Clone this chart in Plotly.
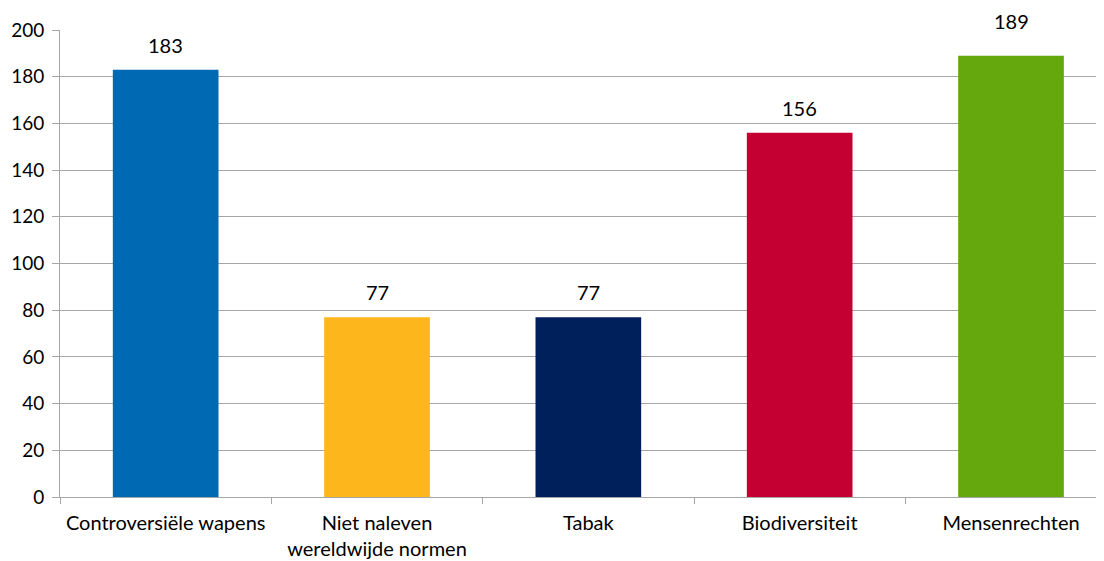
import plotly.graph_objects as go

categories = ["Controversiële wapens", "Niet naleven<br>wereldwijde normen", "Tabak", "Biodiversiteit", "Mensenrechten"]
values = [183, 77, 77, 156, 189]
colors = ["#0069B4", "#FDB71C", "#00205B", "#C40033", "#65A80D"]
y_ticks = [0, 20, 40, 60, 80, 100, 120, 140, 160, 180, 200]

FONT = "Lato, 'Open Sans', sans-serif"
FS = 20

fig = go.Figure()
fig.add_trace(go.Bar(
    x=categories, y=values, marker=dict(color=colors, line=dict(width=0)),
    width=0.5, hoverinfo="skip",
))

for i, (c, v) in enumerate(zip(categories, values)):
    fig.add_annotation(x=c, y=v, text=str(v), showarrow=False,
                       yshift=35 if v >= 185 else 25, yanchor="middle",
                       font=dict(family=FONT, size=FS, color="#000000"))

# page body has an 8px margin, so the figure is sized to fill the rest
fig.update_layout(
    width=1096, height=553,
    margin=dict(l=52, r=0, t=22, b=64),
    paper_bgcolor="white", plot_bgcolor="white",
    showlegend=False,
    font=dict(family=FONT, size=FS, color="#000000"),
    bargap=0.5,
)
fig.update_xaxes(
    type="category", range=[-0.5, 4.44], automargin=False,
    showline=True, linecolor="#A6A6A6", linewidth=1,
    ticks="outside", tickson="boundaries", ticklen=6, tickcolor="#A6A6A6",
    ticklabelstandoff=8,
    showgrid=False, tickfont=dict(family=FONT, size=FS, color="#000000"),
)
fig.update_yaxes(
    range=[0, 200], tickvals=y_ticks, automargin=False,
    showline=True, linecolor="#A6A6A6", linewidth=1,
    ticks="outside", ticklen=7, tickcolor="#A6A6A6",
    ticklabelstandoff=4,
    showgrid=True, gridcolor="#A6A6A6", gridwidth=1,
    zeroline=False,
    tickfont=dict(family=FONT, size=19, color="#000000"),
)

fig.write_html("out.html")
